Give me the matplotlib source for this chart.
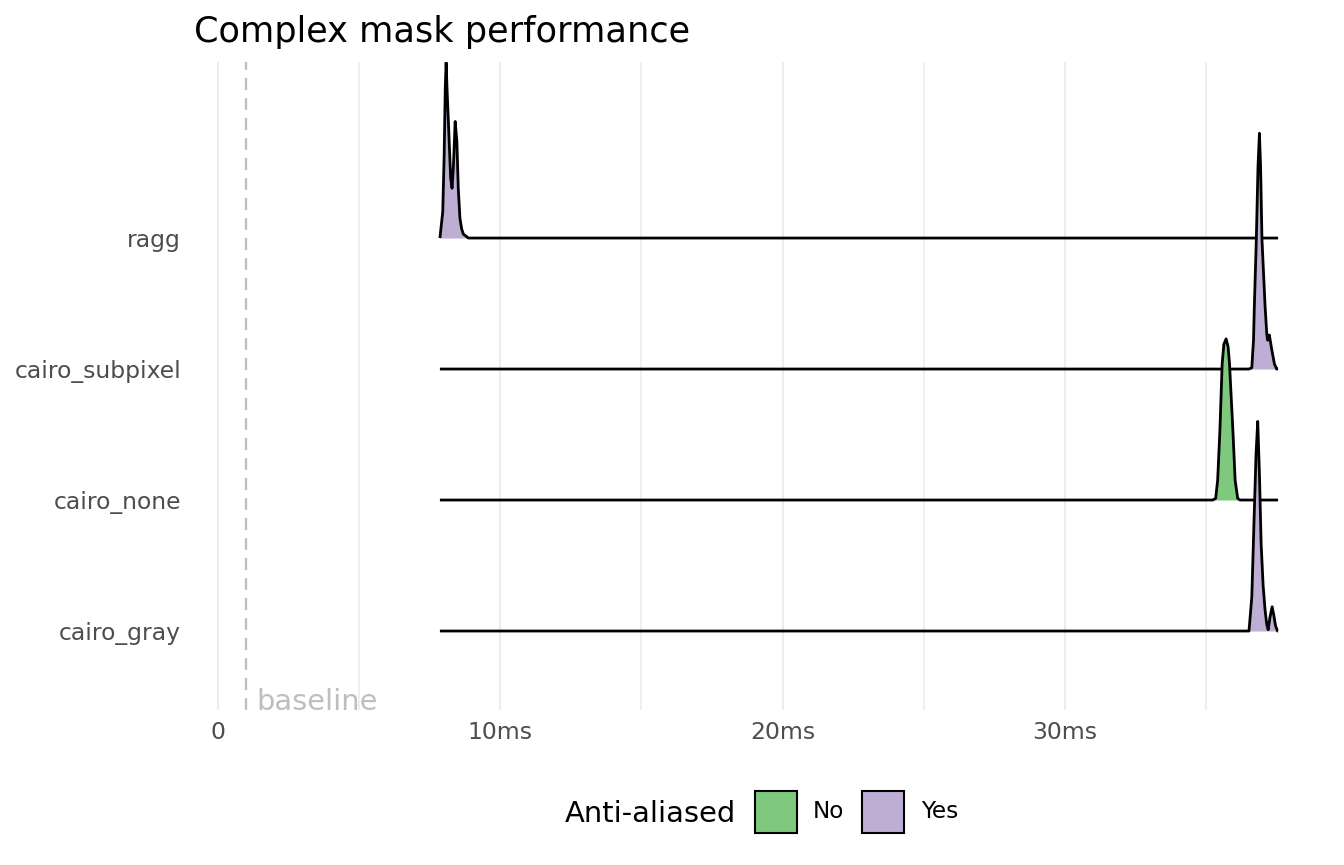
import matplotlib
matplotlib.use("Agg")
import matplotlib.pyplot as plt
from matplotlib.patches import Rectangle
from matplotlib.ticker import FixedLocator

plt.rcParams['font.family'] = ['DejaVu Sans']

# ---------------- data ----------------
renderers = ["cairo_gray", "cairo_none", "cairo_subpixel", "ragg"]
anti_aliased = {"cairo_gray": "Yes", "cairo_none": "No",
                "cairo_subpixel": "Yes", "ragg": "Yes"}

# density outline per renderer: time (ms) and scaled density height
ragg_ms = [7.86, 7.96, 8.01, 8.05, 8.08, 8.11, 8.16, 8.24, 8.29, 8.34,
           8.40, 8.46, 8.51, 8.57, 8.63, 8.69, 8.87, 37.55]
ragg_h = [0.00, 0.20, 0.63, 1.15, 1.34, 1.15, 0.89, 0.46, 0.38, 0.56,
          0.89, 0.74, 0.38, 0.15, 0.07, 0.03, 0.00, 0.00]

subpixel_ms = [7.86, 36.52, 36.62, 36.68, 36.71, 36.78, 36.84, 36.89,
               36.93, 36.98, 37.09, 37.15, 37.18, 37.24, 37.33, 37.42,
               37.50, 37.55]
subpixel_h = [0.00, 0.00, 0.01, 0.22, 0.48, 0.99, 1.55, 1.80,
              1.55, 0.99, 0.48, 0.27, 0.22, 0.26, 0.145, 0.04,
              0.00, 0.00]

none_ms = [7.86, 35.24, 35.34, 35.41, 35.49, 35.57, 35.63, 35.71,
           35.78, 35.83, 35.95, 36.03, 36.12, 36.20, 37.55]
none_h = [0.00, 0.00, 0.013, 0.15, 0.53, 1.04, 1.19, 1.23,
          1.17, 1.04, 0.53, 0.15, 0.013, 0.00, 0.00]

gray_ms = [7.86, 36.52, 36.62, 36.70, 36.77, 36.83, 36.89, 36.95,
           37.02, 37.09, 37.15, 37.20, 37.26, 37.34, 37.40, 37.46,
           37.53, 37.55]
gray_h = [0.00, 0.00, 0.26, 0.85, 1.35, 1.60, 1.20, 0.67,
          0.35, 0.16, 0.05, 0.01, 0.10, 0.185, 0.12, 0.04,
          0.00, 0.00]

curves = {
    "cairo_gray": (gray_ms, gray_h),
    "cairo_none": (none_ms, none_h),
    "cairo_subpixel": (subpixel_ms, subpixel_h),
    "ragg": (ragg_ms, ragg_h),
}

baseline_ms = 1.0
major_ticks = [0, 10, 20, 30]
major_labels = ["0", "10ms", "20ms", "30ms"]
minor_ticks = [5, 15, 25, 35]

fill_colors = {"No": "#7FC97F", "Yes": "#BEAED4"}

# ---------------- figure ----------------
W, H = 1344, 865
fig = plt.figure(figsize=(W / 100, H / 100), dpi=100)
ax = fig.add_axes([189.8 / W, (H - 710) / H, 1117.9 / W, 648 / H])
ax.set_xlim(-1.0, 38.6)
ax.set_ylim(0.397, 5.344)

for s in ax.spines.values():
    s.set_visible(False)

ax.xaxis.set_major_locator(FixedLocator(major_ticks))
ax.set_xticklabels(major_labels)
ax.xaxis.set_minor_locator(FixedLocator(minor_ticks))
ax.grid(True, axis="x", which="major", color="#EBEBEB", lw=1.3, zorder=0)
ax.grid(True, axis="x", which="minor", color="#EBEBEB", lw=1.1, zorder=0)
ax.set_axisbelow(True)
ax.tick_params(axis="both", which="both", length=0, labelsize=16.9,
               labelcolor="#4D4D4D")
ax.tick_params(axis="x", pad=8.2)
ax.tick_params(axis="y", pad=6.3)

ypos = {r: i + 1 for i, r in enumerate(renderers)}
ax.set_yticks([ypos[r] for r in renderers])
ax.set_yticklabels(renderers)

# baseline reference
ax.axvline(baseline_ms, color="#BEBEBE", lw=1.6, dashes=(5.4, 3.6), zorder=1)
ax.annotate("baseline", xy=(baseline_ms, 0.397), xytext=(7.5, 0),
            textcoords="offset points", ha="left", va="baseline",
            fontsize=20.8, color="#BEBEBE")

# ridges: draw top row first so lower rows overlap
for k, r in enumerate(reversed(renderers)):
    xs, hs = curves[r]
    base = ypos[r]
    top = [base + h for h in hs]
    z = 2 + k
    ax.fill_between(xs, base, top, color=fill_colors[anti_aliased[r]],
                    lw=0, zorder=z)
    ax.plot(xs, top, color="black", lw=2.0, zorder=z + 0.5,
            solid_joinstyle="round", solid_capstyle="butt")

# title
fig.text(194 / W, 1 - 42 / H, "Complex mask performance", fontsize=25.3,
         ha="left", va="baseline", color="black")

# legend (manual)
fig.text(565 / W, 1 - 822 / H, "Anti-aliased", fontsize=20.9,
         ha="left", va="baseline", color="black")
for (x0, lab, lx) in [(755, "No", 813), (862, "Yes", 921)]:
    fig.add_artist(Rectangle((x0 / W, 1 - 833 / H), 42 / W, 42 / H,
                             transform=fig.transFigure,
                             facecolor=fill_colors[lab], edgecolor="black",
                             lw=1.5))
    fig.text(lx / W, 1 - 812 / H, lab, fontsize=16.7, ha="left",
             va="center", color="black")

fig.savefig("out.png", dpi=100)
